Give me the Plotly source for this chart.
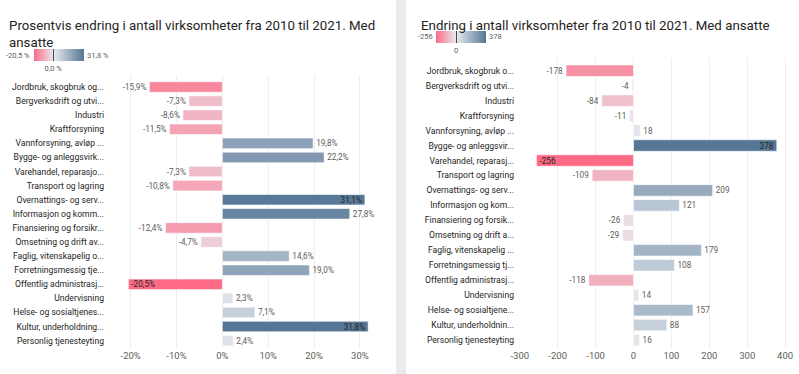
import plotly.graph_objects as go

W, H = 799, 374

labels_pct = ["Jordbruk, skogbruk og...", "Bergverksdrift og utvi...", "Industri", "Kraftforsyning",
              "Vannforsyning, avløp ...", "Bygge- og anleggsvirk...", "Varehandel, reparasjo...",
              "Transport og lagring", "Overnattings- og serv...", "Informasjon og komm...",
              "Finansiering og forsikr...", "Omsetning og drift av...", "Faglig, vitenskapelig o...",
              "Forretningsmessig tje...", "Offentlig administrasj...", "Undervisning",
              "Helse- og sosialtjenes...", "Kultur, underholdning...", "Personlig tjenesteyting"]
pct_change = [-15.9, -7.3, -8.6, -11.5, 19.8, 22.2, -7.3, -10.8, 31.1, 27.8,
              -12.4, -4.7, 14.6, 19.0, -20.5, 2.3, 7.1, 31.8, 2.4]

labels_abs = ["Jordbruk, skogbruk o...", "Bergverksdrift og utvi...", "Industri", "Kraftforsyning",
              "Vannforsyning, avløp ...", "Bygge- og anleggsvir...", "Varehandel, reparasj...",
              "Transport og lagring", "Overnattings- og serv...", "Informasjon og kom...",
              "Finansiering og forsik...", "Omsetning og drift a...", "Faglig, vitenskapelig ...",
              "Forretningsmessig tj...", "Offentlig administrasj...", "Undervisning",
              "Helse- og sosialtjene...", "Kultur, underholdnin...", "Personlig tjenesteyting"]
abs_change = [-178, -4, -84, -11, 18, 378, -256, -109, 209, 121,
              -26, -29, 179, 108, -118, 14, 157, 88, 16]

pct_ticks = [-20, -10, 0, 10, 20, 30]
pct_ticktext = ["-20%", "-10%", "0%", "10%", "20%", "30%"]
abs_ticks = [-300, -200, -100, 0, 100, 200, 300, 400]
abs_ticktext = ["-300", "-200", "-100", "0", "100", "200", "300", "400"]

PINK, MID, BLUE = "#FD6A86", "#E8EBEF", "#567696"
FONT = "Segoe UI, Roboto, sans-serif"
TXT = "#605E5C"
CAT = 8.6
TICK = 9.5
VAL = 8.2


def cscale(vals):
    lo, hi = min(vals), max(vals)
    z0 = -lo / (hi - lo)
    return [[0, PINK], [z0, MID], [1, BLUE]], lo, hi


def positions(vals):
    lo, hi = min(vals), max(vals)
    return ["inside" if (v >= 0.95 * hi or v <= 0.95 * lo) else "outside" for v in vals]


fig = go.Figure()

cs1, lo1, hi1 = cscale(pct_change)
cs2, lo2, hi2 = cscale(abs_change)

fig.add_trace(go.Bar(
    y=list(range(len(labels_pct))), x=pct_change, orientation="h", width=0.75,
    marker=dict(color=pct_change, coloraxis="coloraxis",
                line=dict(color="rgba(255,255,255,0.6)", width=1)),
    text=[f"{v:.1f}%".replace(".", ",") for v in pct_change],
    textposition=positions(pct_change), insidetextanchor="end",
    insidetextfont=dict(color="#252423", size=VAL, family=FONT),
    outsidetextfont=dict(color=TXT, size=VAL, family=FONT),
    constraintext="none", cliponaxis=False, xaxis="x", yaxis="y", hoverinfo="skip"))

fig.add_trace(go.Bar(
    y=list(range(len(labels_abs))), x=abs_change, orientation="h", width=0.77,
    marker=dict(color=abs_change, coloraxis="coloraxis2",
                line=dict(color="rgba(255,255,255,0.6)", width=1)),
    text=[str(v) for v in abs_change],
    textposition=positions(abs_change), insidetextanchor="end",
    insidetextfont=dict(color="#252423", size=VAL, family=FONT),
    outsidetextfont=dict(color=TXT, size=VAL, family=FONT),
    constraintext="none", cliponaxis=False, xaxis="x2", yaxis="y2", hoverinfo="skip"))


def px(x):
    return x / W


def py(y):
    return 1 - y / H


cb_common = dict(orientation="h", lenmode="pixels", len=50, thickness=12,
                 outlinewidth=0, xanchor="center", yanchor="top", xpad=0, ypad=0,
                 ticks="inside", ticklen=12, tickcolor="#444", tickwidth=1,
                 tickfont=dict(size=7.5, color=TXT, family=FONT))

fig.update_layout(
    width=W, height=H, margin=dict(l=0, r=0, t=0, b=0, autoexpand=False),
    paper_bgcolor="white", plot_bgcolor="white", showlegend=False,
    font=dict(family=FONT, color=TXT),
    coloraxis=dict(colorscale=cs1, cmin=lo1, cmax=hi1,
                   colorbar=dict(**cb_common, x=px(58.5), y=py(49),
                                 tickvals=[0], ticktext=["0,0 %"])),
    coloraxis2=dict(colorscale=cs2, cmin=lo2, cmax=hi2,
                    colorbar=dict(**cb_common, x=px(461), y=py(31),
                                  tickvals=[0], ticktext=["0"])),
    xaxis=dict(domain=[px(110), px(392)], range=[-24.5, 37], tickvals=pct_ticks,
               ticktext=pct_ticktext, showgrid=True, gridcolor="#EEEEEE", zeroline=False,
               tickfont=dict(size=TICK, color=TXT), anchor="y", automargin=False),
    yaxis=dict(domain=[py(348), py(75)], range=[18.52, -0.85], tickvals=list(range(len(labels_pct))),
               ticktext=labels_pct, showgrid=False, zeroline=False, automargin=False,
               tickfont=dict(size=CAT, color="#252423"), anchor="x", ticklabelstandoff=5),
    xaxis2=dict(domain=[px(519), px(795)], range=[-302, 426], tickvals=abs_ticks,
                ticktext=abs_ticktext, showgrid=True, gridcolor="#EEEEEE", zeroline=False,
                tickfont=dict(size=TICK, color=TXT), anchor="y2", automargin=False),
    yaxis2=dict(domain=[py(348), py(58)], range=[18.53, -0.85], tickvals=list(range(len(labels_abs))),
                ticktext=labels_abs, showgrid=False, zeroline=False, automargin=False,
                tickfont=dict(size=CAT, color="#252423"), anchor="x2", ticklabelstandoff=4),
    shapes=[dict(type="rect", xref="paper", yref="paper", x0=px(396), x1=px(406), y0=0, y1=1,
                 fillcolor="#E9ECEF", line=dict(width=0), layer="below")],
    annotations=[
        dict(text="Prosentvis endring i antall virksomheter fra 2010 til 2021. Med<br>ansatte",
             x=px(7), y=py(16), xref="paper", yref="paper", xanchor="left", yanchor="top",
             align="left", showarrow=False, font=dict(size=13.3, color="#252423", family=FONT)),
        dict(text="Endring i antall virksomheter fra 2010 til 2021. Med ansatte",
             x=px(419), y=py(16), xref="paper", yref="paper", xanchor="left", yanchor="top",
             align="left", showarrow=False, font=dict(size=13.3, color="#252423", family=FONT)),
        dict(text="-20,5 %", x=px(32), y=py(55), xref="paper", yref="paper", xanchor="right",
             yanchor="middle", showarrow=False, font=dict(size=7.5, color=TXT, family=FONT)),
        dict(text="31,8 %", x=px(85), y=py(55), xref="paper", yref="paper", xanchor="left",
             yanchor="middle", showarrow=False, font=dict(size=7.5, color=TXT, family=FONT)),
        dict(text="-256", x=px(435), y=py(37), xref="paper", yref="paper", xanchor="right",
             yanchor="middle", showarrow=False, font=dict(size=7.5, color=TXT, family=FONT)),
        dict(text="378", x=px(487), y=py(37), xref="paper", yref="paper", xanchor="left",
             yanchor="middle", showarrow=False, font=dict(size=7.5, color=TXT, family=FONT)),
    ],
)

fig.write_html("out.html", config={"displayModeBar": False},
               post_script="document.body.style.margin='0';")
